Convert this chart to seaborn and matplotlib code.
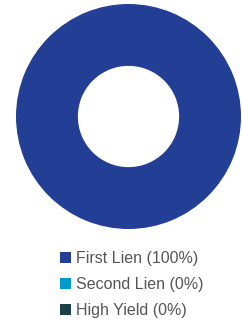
import matplotlib
matplotlib.use("Agg")
import matplotlib.pyplot as plt
from matplotlib.patches import Patch
import seaborn as sns

categories = ["First Lien", "Second Lien", "High Yield"]
values = [100, 0, 0]
colors = ["#233E95", "#0099CC", "#1B4046"]

sns.set_theme(style="white")
plt.rcParams['font.family'] = ['Liberation Sans', 'DejaVu Sans']

fig = plt.figure(figsize=(2.42, 3.21), dpi=100)
ax = fig.add_axes([16/242, 92/321, 225/242, 225/321])
ax.pie(values, colors=colors, startangle=90, counterclock=False,
       wedgeprops=dict(width=0.55, edgecolor="none"))
ax.set_xlim(-1, 1)
ax.set_ylim(-1, 1)
ax.set_aspect("equal")
ax.axis("off")

handles = [Patch(facecolor=c, edgecolor="none") for c in colors]
labels = [f"{c} ({v}%)" for c, v in zip(categories, values)]
leg = fig.legend(handles, labels, loc="upper left",
                 bbox_to_anchor=(60/242, 1 - 251/321),
                 frameon=False, fontsize=11.5, handlelength=0.7,
                 handleheight=0.7, handletextpad=0.32, labelspacing=0.68,
                 borderpad=0, borderaxespad=0)
for t in leg.get_texts():
    t.set_color("#555555")

fig.savefig("out.png", dpi=100)
